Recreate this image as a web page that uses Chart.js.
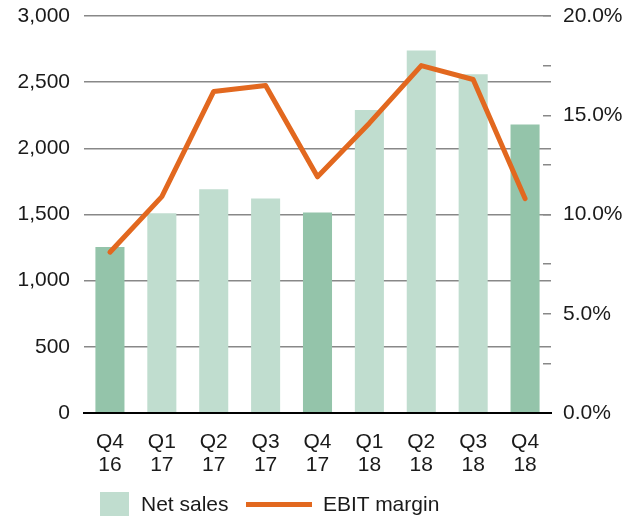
<!DOCTYPE html>
<html>
<head>
<meta charset="utf-8">
<script src="https://cdn.jsdelivr.net/npm/chart.js@4/dist/chart.umd.min.js"></script>
<style>
  body { margin: 0; background: #fff; }
  #wrap { position: relative; width: 628px; height: 516px; overflow: hidden; font-family: "Liberation Sans", Arial, sans-serif; }
  #chart { position: absolute; left: 0; top: 0; }
  .leg { position: absolute; font-size: 21px; color: #1a1a1a; line-height: 24px; }
  .box { position: absolute; background: #c0ddcf; }
  .ln { position: absolute; background: #e2681f; }
</style>
</head>
<body>
<div id="wrap">
  <canvas id="chart" width="628" height="516"></canvas>
  <div class="box" style="left:100px; top:492px; width:29px; height:30px;"></div>
  <div class="leg" style="left:141px; top:492px;">Net sales</div>
  <div class="ln" style="left:246px; top:502px; width:66px; height:5px;"></div>
  <div class="leg" style="left:323px; top:492px;">EBIT margin</div>
</div>
<script>
// quarters, two-line tick labels
const quarters = [
  ["Q4", "16"], ["Q1", "17"], ["Q2", "17"], ["Q3", "17"], ["Q4", "17"],
  ["Q1", "18"], ["Q2", "18"], ["Q3", "18"], ["Q4", "18"]
];
// net sales (left axis)
const netSales = [1255, 1510, 1690, 1620, 1515, 2290, 2740, 2560, 2180];
// EBIT margin in % (right axis)
const ebitMargin = [8.1, 10.9, 16.2, 16.5, 11.9, 14.6, 17.5, 16.8, 10.8];

const darkGreen = "#94c4aa";
const lightGreen = "#c0ddcf";
const orange = "#e2681f";
const textColor = "#1a1a1a";

const barColors = quarters.map(([q]) => (q === "Q4" ? darkGreen : lightGreen));

Chart.defaults.font.family = '"Liberation Sans", Arial, sans-serif';
Chart.defaults.font.size = 21;
Chart.defaults.color = textColor;

// fixed axis sizes so the plot area lands where the original has it
const fitY = (w) => (scale) => {
  scale.width = w;
  scale.paddingTop = 0;
  scale.paddingBottom = 0;
};

new Chart(document.getElementById("chart"), {
  data: {
    labels: quarters,
    datasets: [
      {
        type: "line",
        label: "EBIT margin",
        data: ebitMargin,
        yAxisID: "y2",
        borderColor: orange,
        borderWidth: 5,
        borderCapStyle: "round",
        borderJoinStyle: "round",
        pointRadius: 0,
        tension: 0,
        order: 0,
      },
      {
        type: "bar",
        label: "Net sales",
        data: netSales,
        yAxisID: "y",
        backgroundColor: barColors,
        barPercentage: 0.56,
        categoryPercentage: 1,
        order: 1,
      },
    ],
  },
  options: {
    responsive: false,
    animation: false,
    layout: { padding: { top: 16, left: 0, right: 0, bottom: 0 } },
    plugins: {
      legend: { display: false },
      tooltip: { enabled: false },
    },
    scales: {
      x: {
        grid: { display: false, drawTicks: false },
        border: { display: true, color: "#000", width: 2 },
        ticks: { padding: 18, maxRotation: 0, font: { size: 21, lineHeight: 1.1 } },
        afterFit: (scale) => { scale.height = 103; },
      },
      y: {
        position: "left",
        min: 0,
        max: 3000,
        grid: {
          color: (ctx) => (ctx.tick && ctx.tick.value === 0 ? "#000" : "#888"),
          lineWidth: (ctx) => (ctx.tick && ctx.tick.value === 0 ? 2 : 1.5),
          drawTicks: false,
        },
        border: { display: false },
        ticks: {
          stepSize: 500,
          padding: 14,
          callback: (v) => v.toLocaleString("en-US"),
        },
        afterFit: fitY(84),
      },
      y2: {
        position: "right",
        min: 0,
        max: 20,
        grid: {
          drawOnChartArea: false,
          color: (ctx) => (ctx.tick && ctx.tick.value === 0 ? "#000" : "#888"),
          lineWidth: (ctx) => (ctx.tick && ctx.tick.value === 0 ? 2 : 1.5),
          tickLength: -8,
        },
        border: { display: false },
        ticks: {
          stepSize: 2.5,
          padding: 20,
          autoSkip: false,
          callback: (v) => (v % 5 === 0 ? v.toFixed(1) + "%" : ""),
        },
        afterFit: fitY(77),
      },
    },
  },
});
</script>
</body>
</html>
